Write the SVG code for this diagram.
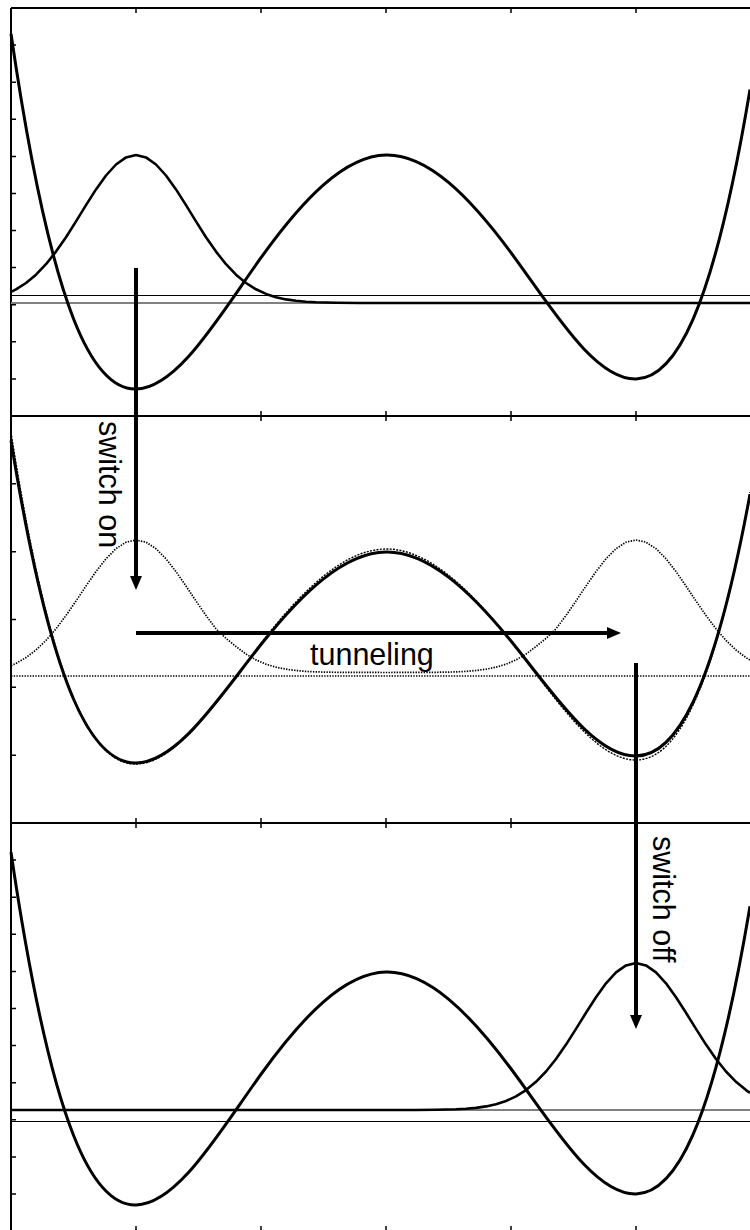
<svg xmlns="http://www.w3.org/2000/svg" width="750" height="1230" viewBox="0 0 750 1230">
<style>
.ax{stroke:#000;stroke-width:2;fill:none}
.tick{stroke:#000;stroke-width:1.5;fill:none}
.pot{fill:none;stroke:#000;stroke-width:3;stroke-linejoin:round}
.wave{fill:none;stroke:#000;stroke-width:2.6;stroke-linejoin:round}
.dotpot{fill:none;stroke:#000;stroke-width:1.4;stroke-dasharray:2 1.3}
.dotwave{fill:none;stroke:#000;stroke-width:1.7;stroke-dasharray:1.4 1.3}
.thin{stroke:#000;stroke-width:1;fill:none}
.gray{stroke:#808080;stroke-width:2;fill:none}
.arrow{stroke:#000;stroke-width:4;fill:none;marker-end:url(#ah)}
.lbl{font-family:"Liberation Sans",Arial,sans-serif;font-size:30.5px;fill:#000}
</style>
<defs>
<marker id="ah" markerWidth="14" markerHeight="12" refX="0" refY="6" orient="auto" markerUnits="userSpaceOnUse">
<path d="M0,0 L14,6 L0,12 z" fill="#000"/>
</marker>
</defs>
<rect width="750" height="1230" fill="#fff"/>
<g id="axes">
<path class="ax" d="M11,8 H750 M11,8 V1230 M11,416 H750 M11,823 H750"/>
<path class="tick" d="M136,8v5 M261,8v5 M386,8v5 M511,8v5 M636,8v5
M136,411v10 M261,411v10 M386,411v10 M511,411v10 M636,411v10
M136,818v10 M261,818v10 M386,818v10 M511,818v10 M636,818v10
M136,1231v-5 M261,1231v-5 M386,1231v-5 M511,1231v-5 M636,1231v-5
M11,45.1h5 M11,82.2h5 M11,119.3h5 M11,156.4h5 M11,193.5h5 M11,230.5h5 M11,267.6h5 M11,304.7h5 M11,341.8h5 M11,378.9h5
M11,483.8h5 M11,551.7h5 M11,619.5h5 M11,687.3h5 M11,755.2h5
M11,860.1h5 M11,897.2h5 M11,934.3h5 M11,971.4h5 M11,1008.5h5 M11,1045.6h5 M11,1082.7h5 M11,1119.8h5 M11,1156.9h5 M11,1194h5"/>
</g>
<g id="panel-top">
<path class="gray" d="M11,303 H750"/>
<path class="thin" d="M11,295.5 H750"/>
<path class="pot" d="M11,33.7 C52.67,319.1 94.33,389.8 136,389 C177.67,388.2 219.33,315.8 261,257.7 C302.67,199.6 344.33,155.8 386,155 C427.67,154.2 469.33,196.3 511,252.7 C552.67,309.1 594.33,379.8 636,379 C674,378.2 712,317.3 750,89.5"/>
<path class="wave" d="M11,291.8 L16,289.3 26,283 36,274.7 46,264.2 56,251.6 66,237.2 76,221.4 86,205.1 96,189.4 106,175.5 116,164.5 126,157.4 136,155 146,157.4 156,164.5 166,175.5 176,189.4 186,205.1 196,221.4 206,237.2 216,251.6 226,264.2 236,274.7 246,283 256,289.3 266,293.9 276,297.2 286,299.4 296,300.8 306,301.8 316,302.3 336,302.8 360,303 750,303"/>
</g>
<g id="panel-middle">
<path class="dotwave" d="M11,676 H750"/>
<path class="dotpot" d="M11,432.2 C52.67,698.1 94.33,764.3 136,764 C177.67,763.7 219.33,696.8 261,643.2 C302.67,589.6 344.33,549.3 386,549 C427.67,548.7 469.33,588.3 511,641.2 C552.67,694.1 594.33,760.3 636,760 C674,759.7 712,703.5 750,492"/>
<path class="pot" d="M11,440.5 C52.67,699.3 94.33,763.6 136,763 C177.67,762.4 219.33,697 261,644.55 C302.67,592.1 344.33,552.6 386,552 C427.67,551.4 469.33,589.8 511,641.05 C552.67,692.3 594.33,756.6 636,756 C674,755.5 712,700.4 750,494.2"/>
<path class="dotwave" d="M11,665.7 L16,663.4 26,657.6 36,650 46,640.4 56,628.8 66,615.5 76,601 86,586 96,571.6 106,558.8 116,548.7 126,542.2 136,540 146,542.2 156,548.7 166,558.8 176,571.6 186,586 196,601 206,615.5 216,628.8 226,638.4 236,646.5 246,654.1 256,659.9 266,664.2 276,667.2 286,669.2 296,670.5 306,671.4 316,671.9 336,672.3 386,672.5 436,672.3 456,671.9 466,671.4 476,670.5 486,669.2 496,667.2 506,664.2 516,659.9 526,654.1 536,646.5 546,638.4 556,628.8 566,615.5 576,601 586,586 596,571.6 606,558.8 616,548.7 626,542.2 636,540 646,542.2 656,548.7 666,558.8 676,571.6 686,586 696,601 706,615.5 716,628.8 726,640.4 736,650 746,657.6 750,660.1"/>
</g>
<g id="panel-bottom">
<path class="gray" d="M11,1110 H750"/>
<path class="thin" d="M11,1121.5 H750"/>
<path class="pot" d="M11,852.25 C52.67,1135.7 94.33,1205.9 136,1205 C177.67,1204.1 219.33,1132 261,1074.25 C302.67,1016.5 344.33,972.9 386,972 C427.67,971.1 469.33,1012.8 511,1068.75 C552.67,1124.7 594.33,1194.9 636,1194 C674,1193.2 712,1132.6 750,906.2"/>
<path class="wave" d="M11,1110 L416,1110 436,1109.8 456,1109.3 466,1108.8 476,1107.9 486,1106.4 496,1104.2 506,1101 516,1096.4 526,1090.1 536,1081.8 546,1071.5 556,1059 566,1044.6 576,1028.9 586,1012.8 596,997.2 606,983.3 616,972.4 626,965.4 636,963 646,965.4 656,972.4 666,983.3 676,997.2 686,1012.8 696,1028.9 706,1044.6 716,1059 726,1071.5 736,1081.8 746,1090.1 750,1092.8"/>
</g>
<g id="connectors">
<line class="arrow" x1="136" y1="268" x2="136" y2="576"/>
<line class="arrow" x1="136" y1="633" x2="607" y2="633"/>
<line class="arrow" x1="636" y1="663" x2="636" y2="1015"/>
</g>
<g id="labels">
<text class="lbl" transform="translate(99,421) rotate(90)">switch on</text>
<text class="lbl" x="310" y="665">tunneling</text>
<text class="lbl" transform="translate(653,836) rotate(90)">switch off</text>
</g>
</svg>
